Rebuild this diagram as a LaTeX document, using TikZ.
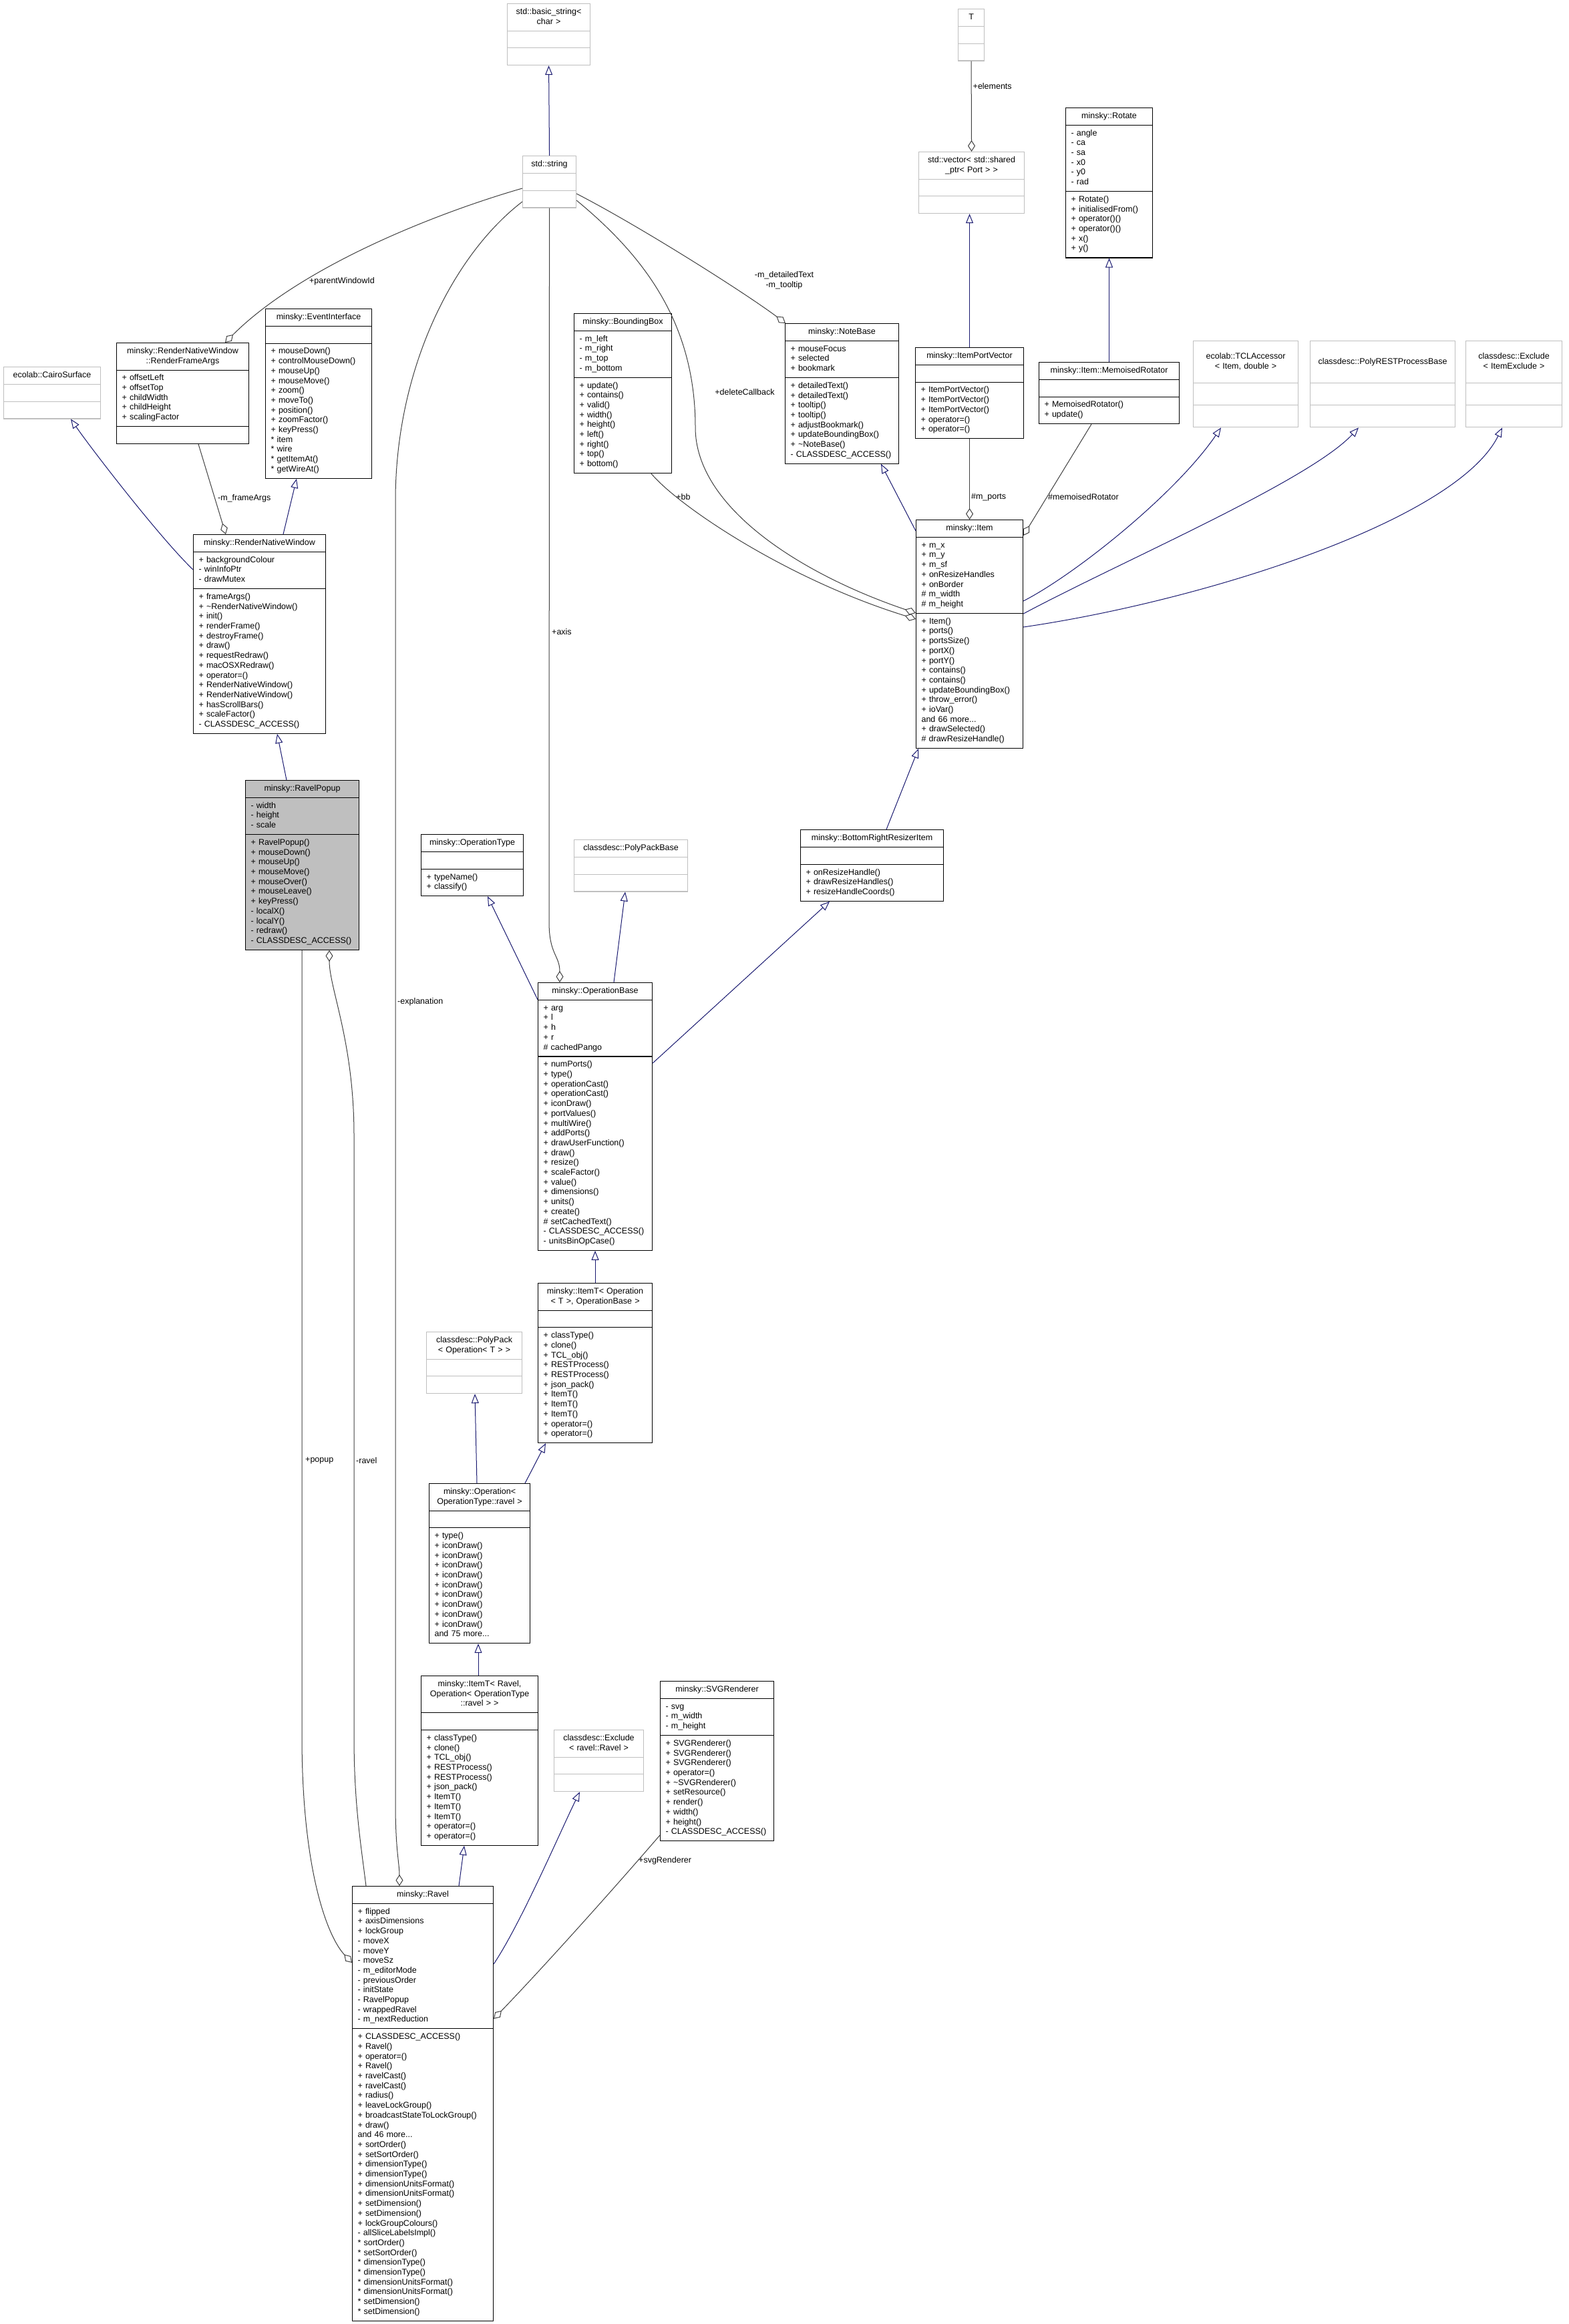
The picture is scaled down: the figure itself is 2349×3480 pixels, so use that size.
\documentclass[tikz,border=0pt]{standalone}
\usepackage{fontspec}
\setmainfont{Liberation Sans}
\usetikzlibrary{shapes.multipart,arrows.meta}

\definecolor{navyline}{RGB}{25,25,112}
\definecolor{aggline}{RGB}{64,64,64}
\definecolor{extgray}{RGB}{191,191,191}
\definecolor{popfill}{RGB}{191,191,191}

\newcommand{\clsfont}{\fontsize{12.5}{14.7}\selectfont}
\newcommand{\hd}[1]{\hskip0pt plus1filll\begin{tabular}[t]{@{}c@{}}#1\end{tabular}\hskip0pt plus1filll\null}
\newcommand{\rows}[1]{\begin{tabular}[t]{@{}l@{}}#1\end{tabular}}
\newcommand{\emptyrow}{\strut}
\newcommand{\vpad}[2]{\rule[-#1pt]{0pt}{#2pt}}

\tikzset{
  cls/.style={rectangle split, rectangle split parts=3, draw=black, line width=1.1pt,
    inner xsep=8pt, inner ysep=5pt, anchor=north west,
    text width=#1pt, font=\clsfont},
  ext/.style={cls=#1, draw=extgray},
  inh/.style={draw=navyline, line width=1pt, -{Triangle[open,length=14pt,width=11pt]}},
  agg/.style={draw=aggline, line width=1pt, -{Diamond[open,length=17pt,width=11pt]}},
  lbl/.style={font=\clsfont, inner sep=0pt}
}

\begin{document}
\begin{tikzpicture}[x=1pt,y=-1pt]
  \path[use as bounding box, fill=white] (0,0) rectangle (2349,3480);

  % classes, top row
  \node[ext=108] (bstr) at (759,5) {\hd{std::basic\_string<\\char >}\nodepart{two}\emptyrow\nodepart{three}\emptyrow};
  \node[ext=64] (str) at (782,233) {\hd{std::string}\nodepart{two}\emptyrow\nodepart{three}\emptyrow};
  \node[ext=23] (tcls) at (1434,13) {\hd{T}\nodepart{two}\emptyrow\nodepart{three}\emptyrow};
  \node[ext=142] (vec) at (1375,227) {\hd{std::vector< std::shared\\\_ptr< Port > >}\nodepart{two}\emptyrow\nodepart{three}\emptyrow};
  \node[cls=114] (rot) at (1595,161) {\hd{minsky::Rotate}
    \nodepart{two}\rows{- angle\\- ca\\- sa\\- x0\\- y0\\- rad}
    \nodepart{three}\rows{+ Rotate()\\+ initialisedFrom()\\+ operator()()\\+ operator()()\\+ x()\\+ y()}};

  % render window
  \node[ext=129] (cairo) at (5,549) {\hd{ecolab::CairoSurface}\nodepart{two}\emptyrow\nodepart{three}\emptyrow};
  \node[cls=182] (rfa) at (174,513) {\hd{minsky::RenderNativeWindow\\::RenderFrameArgs}
    \nodepart{two}\rows{+ offsetLeft\\+ offsetTop\\+ childWidth\\+ childHeight\\+ scalingFactor}
    \nodepart{three}\emptyrow};
  \node[cls=143] (evt) at (397,462) {\hd{minsky::EventInterface}
    \nodepart{two}\emptyrow
    \nodepart{three}\rows{+ mouseDown()\\+ controlMouseDown()\\+ mouseUp()\\+ mouseMove()\\+ zoom()\\+ moveTo()\\+ position()\\+ zoomFactor()\\+ keyPress()\\{}* item\\{}* wire\\{}* getItemAt()\\{}* getWireAt()}};
  \node[cls=182] (rnw) at (289,800) {\hd{minsky::RenderNativeWindow}
    \nodepart{two}\rows{+ backgroundColour\\- winInfoPtr\\- drawMutex}
    \nodepart{three}\rows{+ frameArgs()\\+ \textasciitilde RenderNativeWindow()\\+ init()\\+ renderFrame()\\+ destroyFrame()\\+ draw()\\+ requestRedraw()\\+ macOSXRedraw()\\+ operator=()\\+ RenderNativeWindow()\\+ RenderNativeWindow()\\+ hasScrollBars()\\+ scaleFactor()\\- CLASSDESC\_ACCESS()}};
  \node[cls=154, fill=popfill] (ravelpopup) at (367,1168) {\hd{minsky::RavelPopup}
    \nodepart{two}\rows{- width\\- height\\- scale}
    \nodepart{three}\rows{+ RavelPopup()\\+ mouseDown()\\+ mouseUp()\\+ mouseMove()\\+ mouseOver()\\+ mouseLeave()\\+ keyPress()\\- localX()\\- localY()\\- redraw()\\- CLASSDESC\_ACCESS()}};

  % item
  \node[cls=130] (bbox) at (859,469) {\hd{minsky::BoundingBox}
    \nodepart{two}\rows{- m\_left\\- m\_right\\- m\_top\\- m\_bottom}
    \nodepart{three}\rows{+ update()\\+ contains()\\+ valid()\\+ width()\\+ height()\\+ left()\\+ right()\\+ top()\\+ bottom()}};
  \node[cls=154] (note) at (1175,484) {\hd{minsky::NoteBase}
    \nodepart{two}\rows{+ mouseFocus\\+ selected\\+ bookmark}
    \nodepart{three}\rows{+ detailedText()\\+ detailedText()\\+ tooltip()\\+ tooltip()\\+ adjustBookmark()\\+ updateBoundingBox()\\+ \textasciitilde NoteBase()\\- CLASSDESC\_ACCESS()}};
  \node[cls=146] (ipv) at (1370,520) {\hd{minsky::ItemPortVector}
    \nodepart{two}\emptyrow
    \nodepart{three}\rows{+ ItemPortVector()\\+ ItemPortVector()\\+ ItemPortVector()\\+ operator=()\\+ operator=()}};
  \node[cls=194] (memo) at (1555,542) {\hd{minsky::Item::MemoisedRotator}
    \nodepart{two}\emptyrow
    \nodepart{three}\rows{+ MemoisedRotator()\\+ update()}};
  \node[ext=141] (tcl) at (1786,510) {\hd{ecolab::TCLAccessor\\< Item, double >}\vpad{30.4}{52}\nodepart{two}\vpad{11}{22}\nodepart{three}\vpad{11}{22}};
  \node[ext=201] (prpb) at (1961,510) {\hd{classdesc::PolyRESTProcessBase}\vpad{23.06}{52}\nodepart{two}\vpad{11}{22}\nodepart{three}\vpad{11}{22}};
  \node[ext=128] (excl) at (2194,510) {\hd{classdesc::Exclude\\< ItemExclude >}\vpad{30.4}{52}\nodepart{two}\vpad{11}{22}\nodepart{three}\vpad{11}{22}};
  \node[cls=144] (item) at (1371,778) {\hd{minsky::Item}
    \nodepart{two}\rows{+ m\_x\\+ m\_y\\+ m\_sf\\+ onResizeHandles\\+ onBorder\\\# m\_width\\\# m\_height}
    \nodepart{three}\rows{+ Item()\\+ ports()\\+ portsSize()\\+ portX()\\+ portY()\\+ contains()\\+ contains()\\+ updateBoundingBox()\\+ throw\_error()\\+ ioVar()\\and 66 more...\\+ drawSelected()\\\# drawResizeHandle()}};

  % operations
  \node[cls=137] (optype) at (630,1249) {\hd{minsky::OperationType}
    \nodepart{two}\emptyrow
    \nodepart{three}\rows{+ typeName()\\+ classify()}};
  \node[ext=154] (ppb) at (859,1257) {\hd{classdesc::PolyPackBase}\nodepart{two}\emptyrow\nodepart{three}\emptyrow};
  \node[cls=198] (brri) at (1198,1242) {\hd{minsky::BottomRightResizerItem}
    \nodepart{two}\emptyrow
    \nodepart{three}\rows{+ onResizeHandle()\\+ drawResizeHandles()\\+ resizeHandleCoords()}};
  \node[cls=155] (opbase) at (805,1471) {\hd{minsky::OperationBase}
    \nodepart{two}\rows{+ arg\\+ l\\+ h\\+ r\\\# cachedPango}
    \nodepart{three}\rows{+ numPorts()\\+ type()\\+ operationCast()\\+ operationCast()\\+ iconDraw()\\+ portValues()\\+ multiWire()\\+ addPorts()\\+ drawUserFunction()\\+ draw()\\+ resize()\\+ scaleFactor()\\+ value()\\+ dimensions()\\+ units()\\+ create()\\\# setCachedText()\\- CLASSDESC\_ACCESS()\\- unitsBinOpCase()}};
  \node[cls=155] (itemtop) at (805,1921) {\hd{minsky::ItemT< Operation\\< T >, OperationBase >}
    \nodepart{two}\emptyrow
    \nodepart{three}\rows{+ classType()\\+ clone()\\+ TCL\_obj()\\+ RESTProcess()\\+ RESTProcess()\\+ json\_pack()\\+ ItemT()\\+ ItemT()\\+ ItemT()\\+ operator=()\\+ operator=()}};
  \node[ext=127] (polypack) at (638,1994) {\hd{classdesc::PolyPack\\< Operation< T > >}\nodepart{two}\emptyrow\nodepart{three}\emptyrow};
  \node[cls=135] (opravel) at (642,2221) {\hd{minsky::Operation<\\OperationType::ravel >}
    \nodepart{two}\emptyrow
    \nodepart{three}\rows{+ type()\\+ iconDraw()\\+ iconDraw()\\+ iconDraw()\\+ iconDraw()\\+ iconDraw()\\+ iconDraw()\\+ iconDraw()\\+ iconDraw()\\+ iconDraw()\\and 75 more...}};
  \node[cls=159] (itemtravel) at (630,2509) {\hd{minsky::ItemT< Ravel,\\Operation< OperationType\\::ravel > >}
    \nodepart{two}\emptyrow
    \nodepart{three}\rows{+ classType()\\+ clone()\\+ TCL\_obj()\\+ RESTProcess()\\+ RESTProcess()\\+ json\_pack()\\+ ItemT()\\+ ItemT()\\+ ItemT()\\+ operator=()\\+ operator=()}};
  \node[ext=118] (exclravel) at (829,2590) {\hd{classdesc::Exclude\\< ravel::Ravel >}\nodepart{two}\emptyrow\nodepart{three}\emptyrow};
  \node[cls=154] (svg) at (988,2517) {\hd{minsky::SVGRenderer}
    \nodepart{two}\rows{- svg\\- m\_width\\- m\_height}
    \nodepart{three}\rows{+ SVGRenderer()\\+ SVGRenderer()\\+ SVGRenderer()\\+ operator=()\\+ \textasciitilde SVGRenderer()\\+ setResource()\\+ render()\\+ width()\\+ height()\\- CLASSDESC\_ACCESS()}};
  \node[cls=195] (ravel) at (527,2824) {\hd{minsky::Ravel}
    \nodepart{two}\rows{+ flipped\\+ axisDimensions\\+ lockGroup\\- moveX\\- moveY\\- moveSz\\- m\_editorMode\\- previousOrder\\- initState\\- RavelPopup\\- wrappedRavel\\- m\_nextReduction}
    \nodepart{three}\rows{+ CLASSDESC\_ACCESS()\\+ Ravel()\\+ operator=()\\+ Ravel()\\+ ravelCast()\\+ ravelCast()\\+ radius()\\+ leaveLockGroup()\\+ broadcastStateToLockGroup()\\+ draw()\\and 46 more...\\+ sortOrder()\\+ setSortOrder()\\+ dimensionType()\\+ dimensionType()\\+ dimensionUnitsFormat()\\+ dimensionUnitsFormat()\\+ setDimension()\\+ setDimension()\\+ lockGroupColours()\\- allSliceLabelsImpl()\\{}* sortOrder()\\{}* setSortOrder()\\{}* dimensionType()\\{}* dimensionType()\\{}* dimensionUnitsFormat()\\{}* dimensionUnitsFormat()\\{}* setDimension()\\{}* setDimension()}};

  % inheritance
  \draw[inh] (str.north) -- (bstr.south);
  \draw[inh] ([yshift=-53pt]rnw.north west) .. controls (239,805) and (136,671) .. ([xshift=101pt]cairo.south west);
  \draw[inh] ([xshift=135pt]rnw.north west) -- ([xshift=47pt]evt.south west);
  \draw[inh] ([xshift=62pt]ravelpopup.north west) -- ([xshift=126pt]rnw.south west);
  \draw[inh] (ipv.north) -- (ipv.north |- vec.south);
  \draw[inh] (memo.north) -- (memo.north |- rot.south);
  \draw[inh] ([yshift=-17pt]item.north west) -- ([xshift=144pt]note.south west);
  \draw[inh] ([yshift=-122pt]item.north east) .. controls (1610,860) and (1760,740) .. ([xshift=42pt]tcl.south west);
  \draw[inh] ([yshift=-141pt]item.north east) .. controls (1680,840) and (1960,720) .. ([xshift=73pt]prpb.south west);
  \draw[inh] ([yshift=-161pt]item.north east) .. controls (1800,900) and (2180,780) .. ([xshift=55pt]excl.south west);
  \draw[inh] ([xshift=129pt]brri.north west) -- ([xshift=4pt]item.south west);
  \draw[inh] ([yshift=-26pt]opbase.north west) -- ([xshift=100pt]optype.south west);
  \draw[inh] ([xshift=114pt]opbase.north west) -- ([xshift=77pt]ppb.south west);
  \draw[inh] ([yshift=-121pt]opbase.north east) -- ([xshift=44pt]brri.south west);
  \draw[inh] (itemtop.north) -- (opbase.south);
  \draw[inh] ([xshift=72pt]opravel.north west) -- ([xshift=73pt]polypack.south west);
  \draw[inh] ([xshift=144pt]opravel.north west) -- ([xshift=12pt]itemtop.south west);
  \draw[inh] ([xshift=86pt]itemtravel.north west) -- ([xshift=74pt]opravel.south west);
  \draw[inh] ([xshift=160pt]ravel.north west) -- ([xshift=65pt]itemtravel.south west);
  \draw[inh] ([yshift=-117pt]ravel.north east) .. controls (780,2880) and (840,2740) .. ([xshift=39pt]exclravel.south west);

  % members
  \draw[agg] (tcls.south) -- (vec.north) node[lbl, pos=0.28, right=2pt] (lbelem) {+elements};
  \draw[agg] ([yshift=-49pt]str.north west) .. controls (650,320) and (450,400) .. ([xshift=163pt]rfa.north west);
  \node[lbl] (lbparent) at (512,421) {+parentWindowId};
  \draw[agg] ([xshift=123pt]rfa.south west) -- ([xshift=49pt]rnw.north west) node[lbl, pos=0.6, right=4pt] (lbframe) {-m\_frameArgs};
  \draw[agg] ([yshift=-57pt]str.north east) .. controls (960,340) and (1116,439) .. ([xshift=1pt]note.north west);
  \node[lbl, align=center] (lbnote) at (1174,420) {-m\_detailedText\\-m\_tooltip};
  \draw[agg] ([yshift=-67pt]str.north east) .. controls (960,380) and (1041,480) .. (1041,640) .. controls (1041,760) and (1200,860) .. ([yshift=-140pt]item.north west);
  \node[lbl] (lbdel) at (1115,587) {+deleteCallback};
  \draw[agg] ([xshift=116pt]bbox.south west) .. controls (1015,757) and (1177,867) .. ([yshift=-149pt]item.north west);
  \node[lbl] (lbbb) at (1023,744) {+bb};
  \draw[agg] (ipv.south) -- (ipv.south |- item.north) node[lbl, pos=0.72, right=2pt] (lbports) {\#m\_ports};
  \draw[agg] ([xshift=79pt]memo.south west) -- ([yshift=-24pt]item.north east);
  \node[lbl, anchor=west] (lbmemo) at (1569,744) {\#memoisedRotator};
  \draw[agg] (str.south) -- (822,1380) .. controls (822,1430) and (838,1430) .. ([xshift=33pt]opbase.north west);
  \node[lbl, anchor=west] (lbaxis) at (826,946) {+axis};
  \draw[agg] ([yshift=-69pt]str.north west) .. controls (680,380) and (592,550) .. (592,750) -- (592,2700) .. controls (592,2770) and (598,2790) .. ([xshift=71pt]ravel.north west);
  \node[lbl, anchor=west] (lbexpl) at (595,1500) {-explanation};
  \draw[agg] ([xshift=85pt]ravelpopup.south west) -- (452,2600) .. controls (452,2800) and (490,2900) .. ([yshift=-115pt]ravel.north west);
  \node[lbl, anchor=west] (lbpopup) at (457,2187) {+popup};
  \draw[agg] ([xshift=21pt]ravel.north west) .. controls (540,2760) and (530,2700) .. (530,2600) -- (530,1700) .. controls (530,1560) and (493,1480) .. ([xshift=126pt]ravelpopup.south west);
  \node[lbl, anchor=west] (lbravel) at (533,2187) {-ravel};
  \draw[agg] ([yshift=-231pt]svg.north west) .. controls (900,2850) and (800,2960) .. ([yshift=-199pt]ravel.north east);
  \node[lbl, anchor=west] (lbsvg) at (956,2786) {+svgRenderer};
\end{tikzpicture}
\end{document}
